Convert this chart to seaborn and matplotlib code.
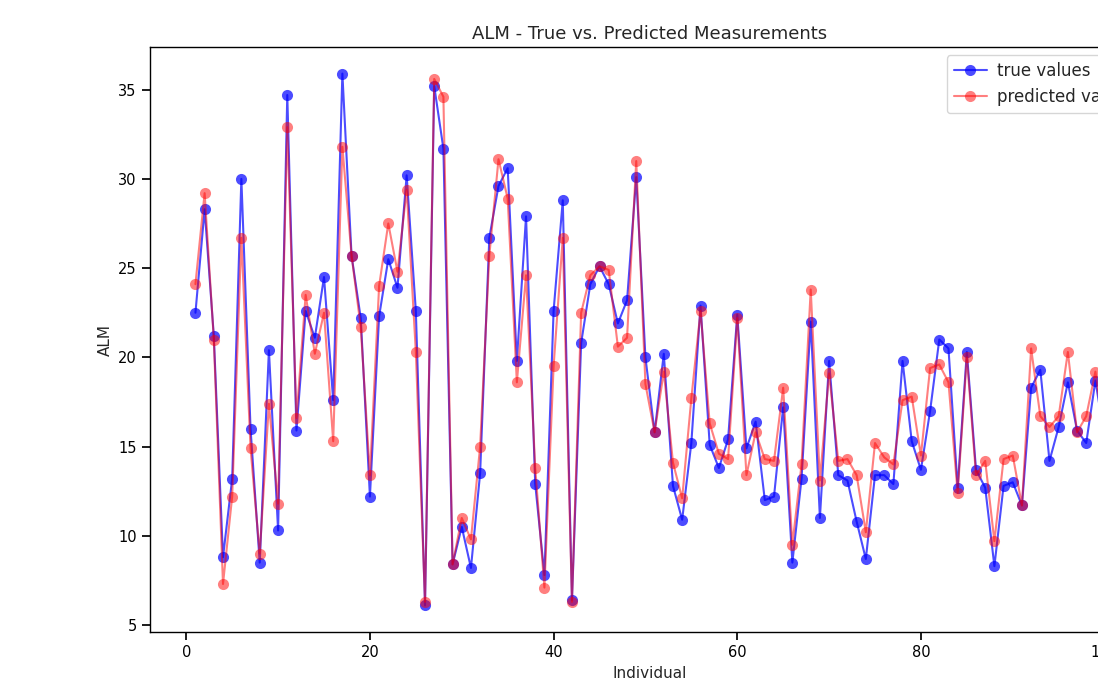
import numpy as np
import pandas as pd
import matplotlib
matplotlib.use("Agg")
import matplotlib.pyplot as plt
import seaborn as sns

individual = list(range(1, 101))

true_values = [
    22.5, 28.3, 21.2, 8.8, 13.2, 30.0, 16.0, 8.5, 20.4, 10.3,
    34.7, 15.9, 22.6, 21.1, 24.5, 17.6, 35.9, 25.7, 22.2, 12.2,
    22.3, 25.5, 23.9, 30.2, 22.6, 6.1, 35.2, 31.7, 8.4, 10.5,
    8.2, 13.5, 26.7, 29.6, 30.6, 19.8, 27.9, 12.9, 7.8, 22.6,
    28.8, 6.4, 20.8, 24.1, 25.1, 24.1, 21.9, 23.2, 30.1, 20.0,
    15.8, 20.2, 12.8, 10.9, 15.2, 22.9, 15.1, 13.8, 15.4, 22.4,
    14.9, 16.4, 12.0, 12.2, 17.2, 8.5, 13.2, 22.0, 11.0, 19.8,
    13.4, 13.1, 10.8, 8.7, 13.4, 13.4, 12.9, 19.8, 15.3, 13.7,
    17.0, 21.0, 20.5, 12.7, 20.3, 13.7, 12.7, 8.3, 12.8, 13.0,
    11.7, 18.3, 19.3, 14.2, 16.1, 18.6, 15.9, 15.2, 18.7, 15.5,
]

predicted_values = [
    24.1, 29.2, 21.0, 7.3, 12.2, 26.7, 14.9, 9.0, 17.4, 11.8,
    32.9, 16.6, 23.5, 20.2, 22.5, 15.3, 31.8, 25.7, 21.7, 13.4,
    24.0, 27.5, 24.8, 29.4, 20.3, 6.3, 35.6, 34.6, 8.4, 11.0,
    9.8, 15.0, 25.7, 31.1, 28.9, 18.6, 24.6, 13.8, 7.1, 19.5,
    26.7, 6.3, 22.5, 24.6, 25.1, 24.9, 20.6, 21.1, 31.0, 18.5,
    15.8, 19.2, 14.1, 12.1, 17.7, 22.6, 16.3, 14.6, 14.3, 22.2,
    13.4, 15.8, 14.3, 14.2, 18.3, 9.5, 14.0, 23.8, 13.1, 19.1,
    14.2, 14.3, 13.4, 10.2, 15.2, 14.4, 14.0, 17.6, 17.8, 14.5,
    19.4, 19.6, 18.6, 12.4, 20.0, 13.4, 14.2, 9.7, 14.3, 14.5,
    11.7, 20.5, 16.7, 16.1, 16.7, 20.3, 15.8, 16.7, 19.2, 15.5,
]

df = pd.DataFrame({
    "Individual": individual,
    "true": true_values,
    "pred": predicted_values,
})

sns.set_theme(style="ticks", rc={
    "axes.edgecolor": "black",
    "axes.linewidth": 1.0,
    "xtick.color": "black",
    "ytick.color": "black",
})
plt.rcParams["font.family"] = ["DejaVu Sans"]

fig = plt.figure(figsize=(10.98, 6.94), dpi=100)
ax = fig.add_axes([0.1366, 0.0893, 0.9108, 0.843])

sns.lineplot(data=df, x="Individual", y="true", ax=ax, color="blue", alpha=0.7,
             marker="o", markersize=8, markeredgecolor="blue", markeredgewidth=0,
             linewidth=1.5, label="true values")
sns.lineplot(data=df, x="Individual", y="pred", ax=ax, color="red", alpha=0.5,
             marker="o", markersize=8, markeredgecolor="red", markeredgewidth=0,
             linewidth=1.5, label="predicted values")

ax.set_title("ALM - True vs. Predicted Measurements", fontsize=13)
ax.set_xlabel("Individual", fontsize=11)
ax.set_ylabel("ALM", fontsize=11)
ax.tick_params(labelsize=10.5)
ax.set_xticks([0, 20, 40, 60, 80, 100])
ax.set_yticks([5, 10, 15, 20, 25, 30, 35])
ax.margins(x=0.05, y=0.05)
for s in ax.spines.values():
    s.set_visible(True)
ax.legend(loc="upper right", fontsize=12, frameon=True, handlelength=2.0,
          handletextpad=0.6)

fig.savefig("out.png", dpi=100)
